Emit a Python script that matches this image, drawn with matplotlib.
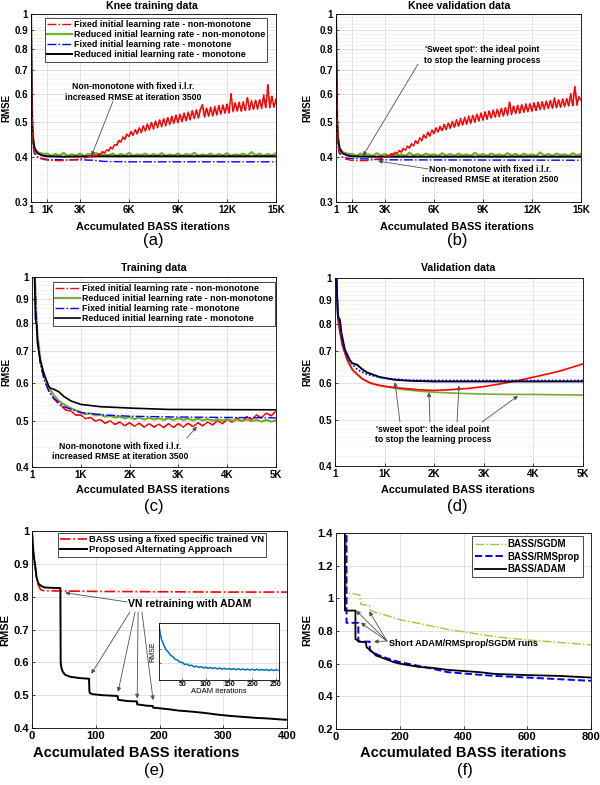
import numpy as np
import matplotlib
matplotlib.use('Agg')
import matplotlib.pyplot as plt
from matplotlib.ticker import MultipleLocator, NullFormatter

plt.rcParams['font.family'] = ['Liberation Sans', 'DejaVu Sans']
plt.rcParams['font.weight'] = 'bold'
plt.rcParams['axes.linewidth'] = 0.6

# ---------------- data ----------------
names4 = ['Fixed initial learning rate - non-monotone',
          'Reduced initial learning rate - non-monotone',
          'Fixed initial learning rate - monotone',
          'Reduced initial learning rate - monotone']

log_ticks = [0.3, 0.4, 0.5, 0.6, 0.7, 0.8, 0.9, 1.0]
log_labels = ['0.3', '0.4', '0.5', '0.6', '0.7', '0.8', '0.9', '1']
knee_xticks = [1, 1000, 3000, 6000, 9000, 12000, 15000]
knee_xlabels = ['1', '1K', '3K', '6K', '9K', '12K', '15K']
bass_xticks = [1, 1000, 2000, 3000, 4000, 5000]
bass_xlabels = ['1', '1K', '2K', '3K', '4K', '5K']

# (a) knee training
a_red_x = [1, 40, 80, 150, 250, 400, 600, 900, 1300, 1800, 2300, 2800, 3200, 3500]
a_red_y = [1.0, 0.62, 0.47, 0.425, 0.41, 0.40, 0.396, 0.393, 0.391, 0.391, 0.392, 0.394, 0.397, 0.400]
a_red_tail = [0.402, 0.400, 0.405, 0.403, 0.409, 0.406, 0.414, 0.410, 0.419, 0.416,
              0.426, 0.422, 0.434, 0.431, 0.445, 0.440, 0.455, 0.448, 0.464, 0.456,
              0.471, 0.460, 0.477, 0.464, 0.483, 0.468, 0.488, 0.472, 0.494, 0.476,
              0.499, 0.479, 0.503, 0.483, 0.507, 0.486, 0.511, 0.489, 0.515, 0.492,
              0.519, 0.496, 0.523, 0.499, 0.527, 0.502, 0.530, 0.505, 0.534, 0.508,
              0.538, 0.511, 0.541, 0.513, 0.544, 0.560, 0.516, 0.547, 0.519, 0.550,
              0.521, 0.553, 0.524, 0.556, 0.526, 0.558, 0.529, 0.561, 0.531, 0.600,
              0.534, 0.566, 0.536, 0.568, 0.537, 0.570, 0.539, 0.585, 0.541, 0.574,
              0.543, 0.576, 0.544, 0.577, 0.546, 0.595, 0.548, 0.635, 0.549, 0.590,
              0.551, 0.580]
a_green_x = [1, 40, 80, 150, 250, 400, 600, 800]
a_green_y = [1.0, 0.68, 0.5, 0.44, 0.42, 0.413, 0.41, 0.408]
a_green_tail = [0.409, 0.403, 0.408, 0.404, 0.411, 0.403, 0.407, 0.404, 0.409, 0.402,
                0.408, 0.405, 0.410, 0.403, 0.407, 0.404, 0.409, 0.403, 0.408, 0.404,
                0.411, 0.403, 0.407, 0.405, 0.409, 0.403, 0.408, 0.404, 0.410, 0.403,
                0.407, 0.404, 0.409, 0.403, 0.408, 0.405, 0.411, 0.403, 0.407, 0.404,
                0.409, 0.403, 0.408, 0.404, 0.410, 0.403, 0.407, 0.405, 0.409, 0.403,
                0.413, 0.404, 0.409, 0.403, 0.408, 0.404, 0.410]
a_blue_x = [1, 30, 60, 100, 200, 400, 700, 1000, 2000, 3000, 3800, 4500, 6000, 15000]
a_blue_y = [1.0, 0.66, 0.5, 0.44, 0.41, 0.40, 0.396, 0.394, 0.393, 0.393, 0.392, 0.389, 0.388, 0.388]
a_black_x = [1, 30, 60, 100, 200, 400, 700, 1000, 2000, 4000, 15000]
a_black_y = [1.0, 0.7, 0.52, 0.46, 0.425, 0.41, 0.404, 0.402, 0.401, 0.402, 0.402]

# (b) knee validation
b_red_x = [1, 40, 80, 150, 250, 400, 600, 900, 1300, 1800, 2300, 2700, 3000]
b_red_y = [1.0, 0.62, 0.47, 0.425, 0.41, 0.40, 0.395, 0.392, 0.391, 0.391, 0.393, 0.396, 0.400]
b_red_tail = [0.404, 0.402, 0.408, 0.405, 0.413, 0.409, 0.417, 0.413, 0.423, 0.418,
              0.429, 0.424, 0.436, 0.430, 0.444, 0.436, 0.452, 0.444, 0.461, 0.451,
              0.469, 0.458, 0.476, 0.465, 0.482, 0.469, 0.487, 0.473, 0.493, 0.477,
              0.498, 0.481, 0.503, 0.484, 0.508, 0.488, 0.512, 0.491, 0.516, 0.494,
              0.520, 0.497, 0.523, 0.500, 0.527, 0.504, 0.530, 0.507, 0.534, 0.510,
              0.537, 0.513, 0.540, 0.516, 0.543, 0.518, 0.546, 0.520, 0.549, 0.523,
              0.570, 0.525, 0.554, 0.528, 0.557, 0.530, 0.560, 0.533, 0.562, 0.535,
              0.564, 0.537, 0.566, 0.539, 0.568, 0.541, 0.570, 0.543, 0.572, 0.545,
              0.574, 0.546, 0.585, 0.549, 0.578, 0.551, 0.580, 0.552, 0.581, 0.554,
              0.600, 0.556, 0.630, 0.558, 0.590, 0.575]
b_green_x = [1, 40, 80, 150, 250, 400, 600, 800]
b_green_y = [1.0, 0.68, 0.5, 0.44, 0.42, 0.413, 0.41, 0.408]
b_green_tail = [0.408, 0.403, 0.409, 0.404, 0.407, 0.403, 0.410, 0.404, 0.408, 0.403,
                0.409, 0.404, 0.407, 0.403, 0.411, 0.404, 0.408, 0.403, 0.409, 0.405,
                0.407, 0.403, 0.410, 0.404, 0.408, 0.403, 0.409, 0.404, 0.407, 0.403,
                0.411, 0.404, 0.408, 0.403, 0.409, 0.405, 0.407, 0.403, 0.410, 0.404,
                0.408, 0.403, 0.409, 0.404, 0.407, 0.403, 0.412, 0.404, 0.408, 0.403,
                0.409, 0.405, 0.407, 0.403, 0.410, 0.404, 0.408]
b_blue_x = [1, 30, 60, 100, 200, 400, 700, 1000, 2000, 2500, 3000, 15000]
b_blue_y = [1.0, 0.66, 0.5, 0.44, 0.41, 0.40, 0.397, 0.396, 0.395, 0.394, 0.393, 0.392]
b_black_x = [1, 30, 60, 100, 200, 400, 700, 1000, 2000, 4000, 15000]
b_black_y = [1.0, 0.7, 0.52, 0.46, 0.425, 0.41, 0.404, 0.402, 0.401, 0.401, 0.401]

# (c) training
c_red_x = [1, 50, 100, 170, 250, 350, 450, 550]
c_red_y = [1.3, 1.05, 0.77, 0.66, 0.61, 0.575, 0.555, 0.542]
c_red_tail = [0.537, 0.526, 0.524, 0.514, 0.514, 0.505, 0.508, 0.499, 0.503, 0.494,
              0.500, 0.491, 0.497, 0.488, 0.495, 0.487, 0.494, 0.485, 0.493, 0.485,
              0.492, 0.484, 0.493, 0.484, 0.493, 0.485, 0.494, 0.486, 0.495, 0.488,
              0.497, 0.490, 0.500, 0.493, 0.503, 0.496, 0.507, 0.499, 0.510, 0.503,
              0.514, 0.507, 0.519, 0.512, 0.524]
c_green_x = [1, 50, 100, 170, 250, 350, 450, 550, 700, 850]
c_green_y = [1.3, 1.05, 0.78, 0.67, 0.62, 0.585, 0.565, 0.55, 0.537, 0.528]
c_green_tail = [0.521, 0.516, 0.518, 0.513, 0.515, 0.510, 0.512, 0.508, 0.510, 0.506,
                0.509, 0.504, 0.508, 0.503, 0.507, 0.503, 0.506, 0.502, 0.506, 0.502,
                0.506, 0.502, 0.505, 0.501, 0.505, 0.501, 0.504, 0.500, 0.504, 0.500,
                0.504, 0.500, 0.503, 0.499, 0.503, 0.499, 0.502, 0.498, 0.502, 0.498,
                0.501]
c_blue_x = [1, 50, 100, 170, 250, 350, 450, 650, 1000, 1500, 2000, 3000, 4000, 5000]
c_blue_y = [1.3, 1.05, 0.77, 0.66, 0.61, 0.575, 0.557, 0.535, 0.52, 0.514, 0.511, 0.509, 0.508, 0.507]
c_black_x = [1, 50, 70, 100, 110, 170, 240, 345, 380, 450, 550, 655, 800, 1000, 1400, 2100, 2800, 5000]
c_black_y = [1.3, 1.05, 0.82, 0.79, 0.73, 0.67, 0.63, 0.59, 0.585, 0.582, 0.575, 0.562, 0.55, 0.541,
             0.535, 0.531, 0.528, 0.527]

# (d) validation
d_red_x = [1, 30, 60, 100, 150, 250, 350, 450, 550, 700, 850, 1000, 1300, 1700, 2000, 2300,
           2700, 3000, 3300, 3700, 4100, 4500, 4800, 5000]
d_red_y = [1.2, 1.0, 0.82, 0.77, 0.72, 0.67, 0.64, 0.625, 0.612, 0.60, 0.594, 0.59, 0.585, 0.58,
           0.578, 0.58, 0.584, 0.589, 0.596, 0.607, 0.62, 0.634, 0.648, 0.658]
d_green_x = [1, 30, 60, 100, 150, 250, 350, 450, 550, 700, 850, 1000, 1300, 1700, 2000, 2500,
             3000, 3500, 4000, 4500, 5000]
d_green_y = [1.2, 1.0, 0.82, 0.77, 0.72, 0.67, 0.64, 0.625, 0.612, 0.60, 0.594, 0.589, 0.582,
             0.576, 0.573, 0.57, 0.568, 0.567, 0.567, 0.566, 0.565]
d_blue_x = [1, 30, 60, 100, 130, 200, 300, 450, 650, 1000, 1500, 2000, 5000]
d_blue_y = [1.2, 1.0, 0.83, 0.8, 0.75, 0.7, 0.665, 0.64, 0.625, 0.613, 0.608, 0.607, 0.607]
d_black_x = [1, 30, 60, 100, 130, 200, 300, 350, 450, 550, 650, 900, 1200, 1500, 2000, 5000]
d_black_y = [1.2, 1.0, 0.83, 0.815, 0.765, 0.705, 0.67, 0.66, 0.655, 0.641, 0.631, 0.617, 0.609,
             0.606, 0.604, 0.604]

# (e) alternating approach
e_names = ['BASS using a fixed specific trained VN', 'Proposed Alternating Approach']
e_red_x = [0, 1, 2, 3, 5, 7, 10, 13, 16, 20, 100, 200, 300, 400]
e_red_y = [1.0, 0.97, 0.94, 0.92, 0.89, 0.86, 0.835, 0.823, 0.819, 0.818, 0.816, 0.815, 0.814, 0.814]
e_black_x = [0, 1, 2, 3, 5, 7, 10, 15, 20, 30, 44.5, 45, 46, 48, 52, 60, 75, 89.5, 90, 91,
             95, 110, 130, 134.5, 135, 150, 164.5, 165, 180, 189.5, 190, 200, 215, 230, 250,
             270, 290, 310, 330, 350, 370, 390, 400]
e_black_y = [1.0, 0.97, 0.94, 0.92, 0.895, 0.86, 0.84, 0.832, 0.828, 0.827, 0.826, 0.60, 0.585,
             0.572, 0.562, 0.556, 0.552, 0.55, 0.512, 0.506, 0.503, 0.50, 0.498, 0.497, 0.486,
             0.482, 0.481, 0.472, 0.468, 0.467, 0.462, 0.46, 0.457, 0.453, 0.45, 0.446, 0.441,
             0.437, 0.434, 0.431, 0.429, 0.426, 0.425]
adam_rmse = [0.95, 0.72, 0.62, 0.53, 0.49, 0.43, 0.41, 0.36, 0.35, 0.31, 0.31, 0.27, 0.28,
             0.25, 0.26, 0.23, 0.245, 0.22, 0.235, 0.21, 0.225, 0.205, 0.22, 0.20, 0.215,
             0.195, 0.21, 0.19, 0.205, 0.19, 0.20, 0.185, 0.20, 0.18, 0.195, 0.18, 0.195,
             0.175, 0.19, 0.175, 0.19, 0.17, 0.19, 0.17, 0.185, 0.17, 0.185, 0.165, 0.185,
             0.165, 0.18, 0.17]
adam_step = 5

# (f) optimizers
f_names = ['BASS/SGDM', 'BASS/RMSprop', 'BASS/ADAM']
f_green_x = [33, 33, 75, 77, 105, 108, 130, 150, 200, 250, 300, 350, 400, 450, 500, 600, 700, 800]
f_green_y = [1.45, 1.035, 1.02, 0.965, 0.955, 0.925, 0.91, 0.9, 0.87, 0.85, 0.83, 0.81, 0.795,
             0.78, 0.765, 0.745, 0.73, 0.715]
f_blue_x = [33, 33, 70, 70, 106, 106, 130, 150, 180, 200, 250, 300, 350, 400, 450, 500, 600, 700, 800]
f_blue_y = [1.45, 0.85, 0.85, 0.735, 0.735, 0.68, 0.655, 0.64, 0.62, 0.61, 0.59, 0.57, 0.548,
            0.54, 0.532, 0.525, 0.515, 0.505, 0.495]
f_black_x = [28, 28, 61, 61, 75, 94, 96, 110, 118, 125, 140, 160, 180, 200, 230, 260, 300, 350,
             400, 450, 500, 600, 700, 800]
f_black_y = [1.45, 0.925, 0.925, 0.75, 0.735, 0.73, 0.70, 0.68, 0.665, 0.65, 0.64, 0.625, 0.61,
             0.60, 0.59, 0.58, 0.575, 0.562, 0.555, 0.548, 0.537, 0.53, 0.525, 0.515]


def join(xh, yh, x0, step, tail):
    xs = list(xh) + [x0 + step * i for i in range(len(tail))]
    return xs, list(yh) + list(tail)


RED, GREEN, BLUE = '#FF0000', '#77AC30', '#0000FF'
ARROW = dict(arrowstyle='-|>', color='#505050', lw=0.6, mutation_scale=6, shrinkA=0, shrinkB=0)

fig = plt.figure(figsize=(6, 7.85), dpi=100)


def box(l, t, r, b):
    return fig.add_axes([l / 600, 1 - b / 785, (r - l) / 600, (b - t) / 785])


def ftext(x, y, s, **kw):
    fig.text(x / 600, 1 - y / 785, s, ha='center', va='center', **kw)


def style(ax, fs):
    ax.grid(True, color='#DCDCDC', lw=0.6)
    ax.set_axisbelow(True)
    ax.tick_params(direction='in', length=2.5, width=0.5, labelsize=fs, pad=2)


def logaxis(ax, lo, xt, xl, xmax):
    ax.set_yscale('log')
    yt = [v for v in log_ticks if v >= lo]
    ax.set_yticks(yt, log_labels[len(log_ticks) - len(yt):])
    ax.yaxis.set_minor_locator(MultipleLocator(0.02))
    ax.yaxis.set_minor_formatter(NullFormatter())
    ax.grid(True, which='minor', axis='y', color='#EFEFEF', lw=0.5)
    ax.tick_params(which='minor', length=0)
    ax.set_xticks(xt, xl)
    ax.set_xlim(1, xmax)
    ax.set_ylim(lo, 1)
    style(ax, 7)


def legend4(ax, handles, anchor):
    lg = ax.legend(handles, names4, loc='upper left', bbox_to_anchor=anchor, fontsize=6.4,
                   handlelength=2.8, handletextpad=0.2, labelspacing=0.12, borderpad=0.25,
                   borderaxespad=0, fancybox=False, framealpha=1, edgecolor='black')
    lg.get_frame().set_linewidth(0.5)


# ---- (a) ----
ax = box(31, 14, 276, 202)
gx, gy = join(a_green_x, a_green_y, 1000, 250, a_green_tail)
rx, ry = join(a_red_x, a_red_y, 3625, 125, a_red_tail)
hg, = ax.plot(gx, gy, color=GREEN, lw=1.6)
hk, = ax.plot(a_black_x, a_black_y, color='black', lw=1.4)
hb, = ax.plot(a_blue_x, a_blue_y, color=BLUE, lw=1.0, ls='-.')
hr, = ax.plot(rx, ry, color=RED, lw=1.0, ls='-.')
ax.plot(rx[len(a_red_x):], ry[len(a_red_y):], color=RED, lw=0.9)
logaxis(ax, 0.3, knee_xticks, knee_xlabels, 15000)
legend4(ax, [hr, hg, hb, hk], (0.057, 0.979))
ax.text(0.416, 0.585, 'Non-monotone with fixed i.l.r.\nincreased RMSE at iteration 3500',
        transform=ax.transAxes, ha='center', va='center', fontsize=6.2, linespacing=1.15)
ax.annotate('', xy=(3700, 0.403), xytext=(0.335, 0.537), textcoords='axes fraction', arrowprops=ARROW)

# ---- (b) ----
ax = box(336, 14, 581, 202)
gx, gy = join(b_green_x, b_green_y, 1000, 250, b_green_tail)
rx, ry = join(b_red_x, b_red_y, 3125, 125, b_red_tail)
ax.plot(gx, gy, color=GREEN, lw=1.6)
ax.plot(b_black_x, b_black_y, color='black', lw=1.4)
ax.plot(b_blue_x, b_blue_y, color=BLUE, lw=1.0, ls='-.')
ax.plot(rx, ry, color=RED, lw=1.0, ls='-.')
ax.plot(rx[len(b_red_x):], ry[len(b_red_y):], color=RED, lw=0.9)
logaxis(ax, 0.3, knee_xticks, knee_xlabels, 15000)
ax.text(0.596, 0.782, "'Sweet spot': the ideal point\nto stop the learning process",
        transform=ax.transAxes, ha='center', va='center', fontsize=6.2, linespacing=1.15)
ax.annotate('', xy=(1650, 0.403), xytext=(0.335, 0.734), textcoords='axes fraction', arrowprops=ARROW)
ax.text(0.629, 0.144, 'Non-monotone with fixed i.l.r.\nincreased RMSE at iteration 2500',
        transform=ax.transAxes, ha='center', va='center', fontsize=6.2, linespacing=1.15)
ax.annotate('', xy=(2570, 0.39), xytext=(0.376, 0.176), textcoords='axes fraction', arrowprops=ARROW)

# ---- (c) ----
ax = box(32, 277, 276, 467)
rx, ry = join(c_red_x, c_red_y, 600, 100, c_red_tail)
gx, gy = join(c_green_x, c_green_y, 1000, 100, c_green_tail)
hr, = ax.plot(rx, ry, color=RED, lw=1.0, ls='-.')
ax.plot(rx[len(c_red_x):], ry[len(c_red_y):], color=RED, lw=0.9)
hg, = ax.plot(gx, gy, color=GREEN, lw=1.6)
hb, = ax.plot(c_blue_x, c_blue_y, color=BLUE, lw=1.0, ls='-.')
hk, = ax.plot(c_black_x, c_black_y, color='black', lw=1.2)
logaxis(ax, 0.4, bass_xticks, bass_xlabels, 5000)
legend4(ax, [hr, hg, hb, hk], (0.086, 0.974))
ax.text(0.361, 0.084, 'Non-monotone with fixed i.l.r.\nincreased RMSE at iteration 3500',
        transform=ax.transAxes, ha='center', va='center', fontsize=6.2, linespacing=1.15)
ax.annotate('', xy=(3380, 0.486), xytext=(0.635, 0.153), textcoords='axes fraction', arrowprops=ARROW)

# ---- (d) ----
ax = box(335, 278, 583, 466)
ax.plot(d_green_x, d_green_y, color=GREEN, lw=1.2)
ax.plot(d_red_x, d_red_y, color=RED, lw=1.2)
ax.plot(d_black_x, d_black_y, color='black', lw=1.4)
ax.plot(d_blue_x, d_blue_y, color=BLUE, lw=1.2, ls=(0, (1, 1.2)))
logaxis(ax, 0.4, bass_xticks, bass_xlabels, 5000)
ax.text(0.395, 0.170, "'sweet spot': the ideal point\nto stop the learning process",
        transform=ax.transAxes, ha='center', va='center', fontsize=6.2, linespacing=1.15)
for sx, tip in [(0.262, (1210, 0.602)), (0.383, (1895, 0.573)),
                (0.492, (2500, 0.592)), (0.593, (3690, 0.563))]:
    ax.annotate('', xy=tip, xytext=(sx, 0.234), textcoords='axes fraction', arrowprops=ARROW)

# ---- (e) ----
ax = box(32, 531, 287, 728)
hr, = ax.plot(e_red_x, e_red_y, color=RED, lw=1.2, ls='-.')
hk, = ax.plot(e_black_x, e_black_y, color='black', lw=1.4)
ax.set_xlim(0, 400)
ax.set_ylim(0.4, 1.0)
ax.set_xticks([0, 100, 200, 300, 400])
ax.set_yticks([0.4, 0.5, 0.6, 0.7, 0.8, 0.9, 1.0], ['0.4', '0.5', '0.6', '0.7', '0.8', '0.9', '1'])
style(ax, 8)
lg = ax.legend([hr, hk], e_names, loc='upper left', bbox_to_anchor=(0.102, 0.99), fontsize=6.8,
               handlelength=2.8, handletextpad=0.2, labelspacing=0.12, borderpad=0.25,
               borderaxespad=0, fancybox=False, framealpha=1, edgecolor='black')
lg.get_frame().set_linewidth(0.5)
ax.text(0.62, 0.629, 'VN retraining with ADAM', transform=ax.transAxes, ha='center', va='center',
        fontsize=7.5)
for sxy, tip in [((0.373, 0.640), (52, 0.812)), ((0.384, 0.589), (93, 0.565)),
                 ((0.404, 0.589), (135, 0.51)), ((0.416, 0.589), (165, 0.49)),
                 ((0.431, 0.589), (190, 0.485))]:
    ax.annotate('', xy=tip, xytext=sxy, textcoords='axes fraction', arrowprops=ARROW)

ins = box(159, 623, 279, 680)
ins.plot([adam_step * i for i in range(len(adam_rmse))], adam_rmse, color='#0072BD', lw=1.1)
ins.set_xlim(0, 257)
ins.set_ylim(0, 1)
ins.set_xticks([50, 100, 150, 200, 250])
ins.set_yticks([0.3, 0.55], ['', ''])
ins.grid(True, color='#DCDCDC', lw=0.5)
ins.tick_params(direction='in', length=1.5, width=0.4, labelsize=5, pad=1)
ins.set_xlabel('ADAM iterations', fontsize=5.5, labelpad=0)
ins.set_ylabel('RMSE', fontsize=5, labelpad=1)

# ---- (f) ----
ax = box(336, 533, 591, 729)
hg, = ax.plot(f_green_x, f_green_y, color='#9ACD32', lw=1.0, ls='-.')
hb, = ax.plot(f_blue_x, f_blue_y, color=BLUE, lw=1.4, ls='--')
hk, = ax.plot(f_black_x, f_black_y, color='black', lw=1.3)
ax.set_xlim(0, 800)
ax.set_ylim(0.2, 1.4)
ax.set_xticks([0, 200, 400, 600, 800])
ax.set_yticks([0.2, 0.4, 0.6, 0.8, 1.0, 1.2, 1.4], ['0.2', '0.4', '0.6', '0.8', '1', '1.2', '1.4'])
style(ax, 8)
lg = ax.legend([hg, hb, hk], f_names, loc='upper right', bbox_to_anchor=(0.969, 0.985), fontsize=6.9,
               handlelength=3.2, handletextpad=0.2, labelspacing=0.25, borderpad=0.35,
               borderaxespad=0, fancybox=False, framealpha=1, edgecolor='black')
lg.get_frame().set_linewidth(0.5)
ax.text(0.208, 0.434, 'Short ADAM/RMSprop/SGDM runs', transform=ax.transAxes, ha='left',
        va='center', fontsize=6.6)
for tip in [(63, 0.925), (78, 0.85), (104, 0.92), (119, 0.735)]:
    ax.annotate('', xy=tip, xytext=(0.2, 0.449), textcoords='axes fraction', arrowprops=ARROW)

# ---- figure texts ----
ftext(152, 6, 'Knee training data', fontsize=7.6)
ftext(459, 6, 'Knee validation data', fontsize=7.6)
ftext(154, 268, 'Training data', fontsize=7.6)
ftext(458, 268, 'Validation data', fontsize=7.6)
for x, y, fs in [(153, 227, 7.8), (457, 227, 7.8), (153, 490, 7.8), (458, 490, 7.8),
                 (136, 753, 10.5), (463, 753, 10.5)]:
    ftext(x, y, 'Accumulated BASS iterations', fontsize=fs)
for x, y, fs in [(6, 108, 7), (307, 108, 7), (6, 372, 7), (307, 372, 7), (5, 630, 8), (307, 630, 8)]:
    ftext(x, y, 'RMSE', fontsize=fs, rotation=90)
for x, y, s in [(153, 241, '(a)'), (457, 241, '(b)'), (154, 507, '(c)'), (457, 506, '(d)'),
                (154, 770, '(e)'), (465, 770, '(f)')]:
    ftext(x, y, s, fontsize=12, fontweight='normal')

fig.savefig('out.png', dpi=100)
